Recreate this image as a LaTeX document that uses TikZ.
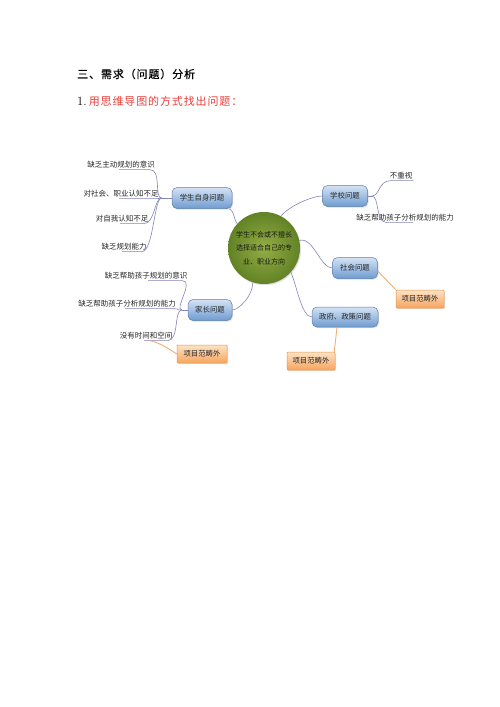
\documentclass[tikz,border=0pt]{standalone}
\usepackage{fontspec}
\newfontfamily\cjk{Noto Sans CJK SC}
\newfontfamily\cjkh[LetterSpace=8]{Noto Sans CJK SC}
\newfontfamily\cjkhb[LetterSpace=8,FakeBold=0.6]{Noto Sans CJK SC}
\usetikzlibrary{shadows,calc}
\definecolor{bluetop}{HTML}{D3E3F4}
\definecolor{bluebot}{HTML}{6F9BD0}
\definecolor{blueedge}{HTML}{5A7FAF}
\definecolor{ortop}{HTML}{FDE3C4}
\definecolor{orbot}{HTML}{F6A45E}
\definecolor{oredge}{HTML}{E99148}
\definecolor{conncol}{HTML}{8484BC}
\definecolor{orconn}{HTML}{F2AE72}
\definecolor{greenin}{HTML}{93AE44}
\definecolor{greenout}{HTML}{628226}
\definecolor{headred}{HTML}{E8403C}
\tikzset{
  bnode/.style={rounded corners=5pt, draw=blueedge, line width=0.5pt, top color=bluetop, bottom color=bluebot,
    minimum height=21pt, inner sep=2pt, font=\cjk\fontsize{7.4}{9}\selectfont, text=black!85,
    drop shadow={opacity=0.25, shadow xshift=1pt, shadow yshift=-1.2pt}},
  onode/.style={rounded corners=1pt, draw=oredge, line width=0.5pt, top color=ortop, bottom color=orbot,
    minimum height=18pt, minimum width=48pt, inner sep=2pt, font=\cjk\fontsize{7.4}{9}\selectfont, text=black!85,
    drop shadow={opacity=0.2, shadow xshift=1pt, shadow yshift=-1.2pt}},
  leaf/.style={font=\cjk\fontsize{7.5}{9}\selectfont, inner sep=1pt, text=black!85},
  conn/.style={draw=conncol, line width=0.6pt},
  oconn/.style={draw=orconn, line width=0.9pt},
}
\begin{document}
\begin{tikzpicture}[x=1pt,y=-1pt]
\useasboundingbox[fill=white] (0,0) rectangle (500,707);

% headings
\node[anchor=west, inner sep=0] (h1) at (77,74) {\cjkhb\fontsize{11}{13}\selectfont 三、需求（问题）分析};
\node[anchor=west, inner sep=0] (h2) at (77,101) {\fontsize{12.5}{14}\selectfont 1.\,{\cjkh\fontsize{11}{13}\selectfont\color{headred}用思维导图的方式找出问题：}};

% centre
\node[circle, minimum size=72pt, inner sep=0, inner color=greenin, outer color=greenout,
      drop shadow={opacity=0.25, shadow xshift=1pt, shadow yshift=-1.2pt},
      align=center, font=\cjk\fontsize{7}{13.5}\selectfont, text=black!90] (c) at (264,248)
      {学生不会或不擅长\\选择适合自己的专\\业、职业方向};

% main nodes
\node[bnode, minimum width=60pt] (n1) at (202,198) {学生自身问题};
\node[bnode, minimum width=45pt] (n2) at (345,196) {学校问题};
\node[bnode, minimum width=45pt] (n3) at (355,268) {社会问题};
\node[bnode, minimum width=66pt, minimum height=20pt] (n4) at (345,317) {政府、政策问题};
\node[bnode, minimum width=44pt] (n5) at (210,310) {家长问题};

% orange nodes
\node[onode] (o1) at (420,299) {项目范畴外};
\node[onode] (o2) at (311,361) {项目范畴外};
\node[onode, minimum width=50pt] (o3) at (202,354) {项目范畴外};

% leaves of n1
\node[leaf] (a1) at (121,165) {缺乏主动规划的意识};
\node[leaf] (a2) at (121,194) {对社会、职业认知不足};
\node[leaf] (a3) at (122,219) {对自我认知不足};
\node[leaf] (a4) at (124,247) {缺乏规划能力};
% leaves of n2
\node[leaf] (b1) at (401,176) {不重视};
\node[leaf] (b2) at (405,218) {缺乏帮助孩子分析规划的能力};
% leaves of n5
\node[leaf] (d1) at (146,276) {缺乏帮助孩子规划的意识};
\node[leaf] (d2) at (127,304) {缺乏帮助孩子分析规划的能力};
\node[leaf] (d3) at (146,336) {没有时间和空间};

% centre connectors
\draw[conn] (c.138) .. controls +(-4,-6) and +(6,4) .. ($(n1.south east)+(-3,0)$);
\draw[conn] (c.62) .. controls +(8,-10) and +(-10,0) .. (n2.west);
\draw[conn] (c.12) .. controls +(14,-4) and +(-12,0) .. (n3.west);
\draw[conn] (c.-42) .. controls +(6,14) and +(-10,0) .. (n4.west);
\draw[conn] (c.-108) .. controls +(0,14) and +(6,0) .. (n5.east);

% leaves of n1
\coordinate (j1) at ($(n1.west)+(-10,0)$);
\draw[conn] (n1.west) -- (j1);
\foreach \l in {a1,a2,a3,a4}{
  \draw[conn] (j1) .. controls +(-8,0) and +(12,0) .. ($(\l.south east)+(-6,0)$) -- ($(\l.south)+(-2,0)$);
}
% leaves of n2
\coordinate (j2) at ($(n2.east)+(4,0)$);
\draw[conn] (n2.east) -- (j2);
\draw[conn] (j2) .. controls +(8,0) and +(-12,0) .. ($(b1.south west)+(2,0)$) -- (b1.south east);
\draw[conn] (j2) .. controls +(8,0) and +(-12,0) .. ($(b2.south)+(-18,0)$) -- ($(b2.south)+(8,0)$);
% leaves of n5
\coordinate (j5) at ($(n5.west)+(-6,0)$);
\draw[conn] (n5.west) -- (j5);
\draw[conn] (j5) .. controls +(-8,0) and +(12,0) .. ($(d1.south east)+(-6,0)$) -- ($(d1.south)+(2,0)$);
\draw[conn] (j5) .. controls +(-8,0) and +(12,0) .. ($(d2.south east)+(-6,0)$) -- ($(d2.south)+(-2,0)$);
\draw[conn] (j5) .. controls +(-8,0) and +(12,0) .. ($(d3.south east)+(-6,0)$) -- ($(d3.south)+(-2,0)$);

% orange connectors
\draw[oconn] ($(n3.east)+(0,3)$) -- (o1.north west);
\draw[oconn] ($(n4.south)+(-8,0)$) -- ($(o2.north east)+(-1,0)$);
\draw[oconn] ($(d3.south)+(4,0)$) .. controls +(10,2) and +(-6,-4) .. (o3.west);
\end{tikzpicture}
\end{document}
